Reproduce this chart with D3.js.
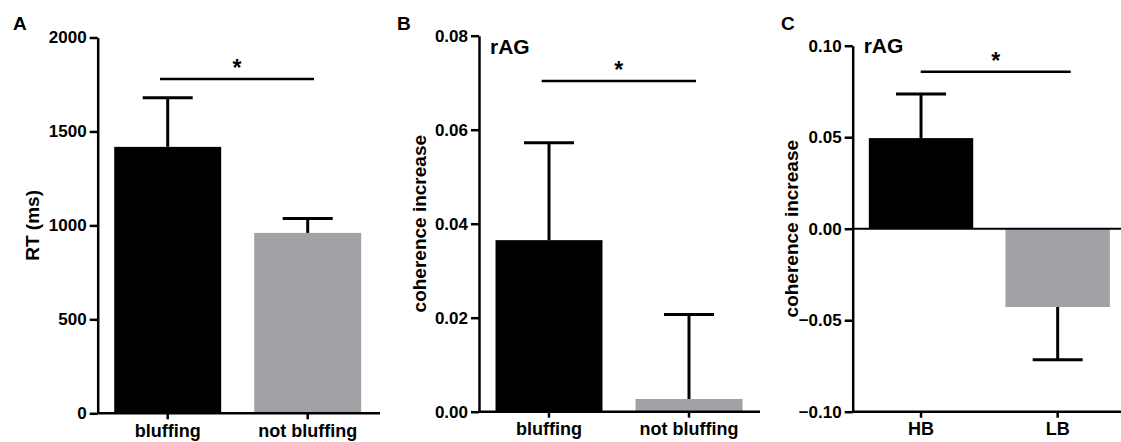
<!DOCTYPE html>
<html>
<head>
<meta charset="utf-8">
<script src="https://cdn.jsdelivr.net/npm/d3@7"></script>
<style>
body { margin: 0; background: #fff; }
text { font-family: "Liberation Sans", Arial, sans-serif; font-weight: bold; }
</style>
</head>
<body>
<script>
// values
const catsAB = ["bluffing", "not bluffing"]
const rtMean = [1418, 960]
const rtErr = [262, 77]
const cohMean = [0.0365, 0.0027]
const cohErr = [0.0207, 0.018]
const catsC = ["HB", "LB"]
const hbMean = [0.0495, -0.0428]
const hbErr = [0.0241, 0.0288]
const rtTicks = [0, 500, 1000, 1500, 2000]
const cohTicks = [0, 0.02, 0.04, 0.06, 0.08]
const cTicks = [-0.1, -0.05, 0, 0.05, 0.1]

const width = 1121
const height = 442
const grey = "#a2a1a6"

const svg = d3.select("body")
    .append("svg")
    .attr("width", width)
    .attr("height", height)

function panel(o) {
    const g = svg.append("g")
    const x = d3.scaleBand().domain(o.cats).range([o.left, o.right])
        .paddingInner(0.236).paddingOuter(0.118)
    const y = d3.scaleLinear().domain(o.domain).range([o.bottom, o.top])

    // bars
    g.selectAll("rect.bar")
        .data(o.mean)
        .enter()
        .append("rect")
        .attr("x", (d, i) => x(o.cats[i]))
        .attr("width", x.bandwidth())
        .attr("y", d => Math.min(y(d), y(0)))
        .attr("height", d => Math.abs(y(d) - y(0)))
        .attr("fill", (d, i) => i == 0 ? "#000" : grey)

    // one-sided error bars
    o.mean.forEach((m, i) => {
        const cx = x(o.cats[i]) + x.bandwidth() / 2
        const e = m >= 0 ? m + o.err[i] : m - o.err[i]
        g.append("line").attr("x1", cx).attr("x2", cx)
            .attr("y1", y(m)).attr("y2", y(e))
            .attr("stroke", "#000").attr("stroke-width", 3)
        g.append("line").attr("x1", cx - 25).attr("x2", cx + 25)
            .attr("y1", y(e)).attr("y2", y(e))
            .attr("stroke", "#000").attr("stroke-width", 3)
    })

    // y axis
    const yAxis = d3.axisLeft(y).tickValues(o.ticks).tickFormat(o.fmt)
        .tickSizeOuter(0).tickSizeInner(8).tickPadding(3)
    const ya = g.append("g").attr("transform", "translate(" + o.left + ",0)").call(yAxis)
    ya.select(".domain").attr("stroke-width", 2.5)
    ya.selectAll(".tick line").attr("stroke-width", 2.5)
    ya.selectAll("text").attr("font-size", 17).attr("fill", "#000")

    // x axis at bottom
    const xAxis = d3.axisBottom(x).tickSizeOuter(0).tickSizeInner(6).tickPadding(5)
    const xa = g.append("g").attr("transform", "translate(0," + o.bottom + ")").call(xAxis)
    xa.select(".domain").remove()
    xa.selectAll(".tick line").attr("stroke-width", 2.5)
    xa.selectAll("text").attr("font-size", 18).attr("fill", "#000")
    g.append("line").attr("x1", o.left).attr("x2", o.axisEnd)
        .attr("y1", o.bottom).attr("y2", o.bottom)
        .attr("stroke", "#000").attr("stroke-width", 2.5)
    if (o.domain[0] < 0) {
        g.append("line").attr("x1", o.left).attr("x2", o.axisEnd)
            .attr("y1", y(0)).attr("y2", y(0))
            .attr("stroke", "#000").attr("stroke-width", 2)
    }

    // significance bar
    g.append("line").attr("x1", o.sig[0]).attr("x2", o.sig[1])
        .attr("y1", o.sigY).attr("y2", o.sigY)
        .attr("stroke", "#000").attr("stroke-width", 2.5)
    g.append("text").attr("x", (o.sig[0] + o.sig[1]) / 2).attr("y", o.sigY - 3)
        .attr("text-anchor", "middle").attr("font-size", 23).text("*")

    // y label
    g.append("text")
        .attr("transform", "translate(" + o.ylabX + "," + ((o.top + o.bottom) / 2) + ") rotate(-90)")
        .attr("text-anchor", "middle").attr("font-size", 19).text(o.ylab)

    // panel letter
    g.append("text").attr("x", o.letterX).attr("y", 30).attr("font-size", 19).text(o.letter)
    if (o.region) {
        g.append("text").attr("x", o.left + 11).attr("y", o.regionY)
            .attr("font-size", 21).text(o.region)
    }
}

panel({
    cats: catsAB, mean: rtMean, err: rtErr, domain: [0, 2000], ticks: rtTicks,
    fmt: d3.format("d"), left: 97.7, right: 377.7, axisEnd: 380, top: 37.5, bottom: 413.3,
    sig: [160, 314], sigY: 79, ylab: "RT (ms)", ylabX: 39, letter: "A", letterX: 13
})
panel({
    cats: catsAB, mean: cohMean, err: cohErr, domain: [0, 0.08], ticks: cohTicks,
    fmt: d3.format(".2f"), left: 479, right: 759, axisEnd: 760, top: 35.7, bottom: 411.7,
    sig: [541.7, 696], sigY: 81, ylab: "coherence increase", ylabX: 426, letter: "B", letterX: 397,
    region: "rAG", regionY: 54
})
panel({
    cats: catsC, mean: hbMean, err: hbErr, domain: [-0.1, 0.1], ticks: cTicks,
    fmt: d3.format(".2f"), left: 852.7, right: 1126, axisEnd: 1121, top: 45.7, bottom: 411.7,
    sig: [920.7, 1070.7], sigY: 71.7, ylab: "coherence increase", ylabX: 798, letter: "C", letterX: 781,
    region: "rAG", regionY: 53
})
</script>
</body>
</html>
